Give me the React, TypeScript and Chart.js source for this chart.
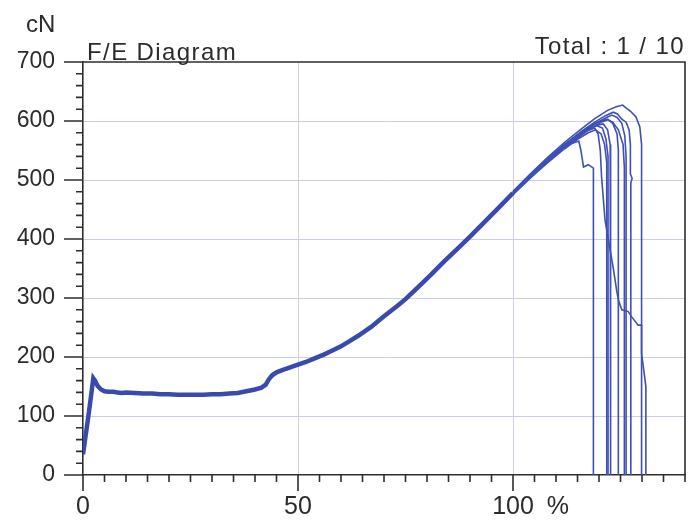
import React, { useEffect, useRef } from 'react';
import { Chart, registerables } from 'chart.js';

Chart.register(...registerables);

// ---- text ----
const unitY = 'cN';
const chartTitle = 'F/E Diagram';
const totalLabel = 'Total : 1 / 10';
const unitX = '%';

// ---- axes ----
const xMin = 0;
const xMax = 140;
const xMinorStep = 5;
const xLabelValues = [0, 50, 100];
const yMin = 0;
const yMax = 700;
const yMinorStep = 20;
const yLabelValues = [0, 100, 200, 300, 400, 500, 600, 700];

// ---- shared part of the 10 curves (elongation %, force cN) ----
const sharedCurve: number[][] = [
  [0, 35], [0.6, 66], [1.2, 97], [1.8, 130], [2.4, 164], [2.8, 160], [3.4, 151], [4.2, 145],
  [5, 142], [6, 141], [7, 141], [8, 140], [9, 139], [10, 140], [12, 139], [14, 138],
  [16, 138], [18, 137], [20, 137], [22, 136], [24, 136], [26, 136], [28, 136], [30, 137],
  [32, 137], [34, 138], [36, 139], [38, 142], [40, 145], [41.5, 148], [42.5, 153], [43.2, 162],
  [44, 169], [45, 174], [46.5, 178], [48, 182], [50, 187], [52, 192], [54, 198], [56, 204],
  [58, 211], [60, 218], [62, 227], [64, 236], [67, 251], [70, 269], [73, 286], [75, 298],
  [78, 319], [81, 340], [84, 362], [87, 383], [90, 404], [93, 426], [96, 448], [100, 478],
];

// ---- individual tails of each specimen ----
const specimen1: number[][] = [
  [100, 481], [104, 510], [108, 538], [112, 564], [116, 587], [119, 604], [122, 618], [124, 624],
  [125.5, 627], [126.5, 621], [127.4, 616], [128.6, 607], [129.5, 590], [129.9, 560], [129.9, 0],
];
const specimen2: number[][] = [
  [100, 477], [104, 505], [108, 531], [112, 555], [115, 572], [117.5, 584], [119, 588], [119.8, 578],
  [120.3, 550], [120.6, 505], [121.4, 432], [122.2, 398], [123.4, 347], [124.1, 313], [124.5, 297],
  [125.3, 280], [126.8, 277], [127.6, 268], [129.1, 254], [129.9, 254], [129.9, 206], [130.9, 150],
  [130.9, 0],
];
const specimen3: number[][] = [
  [100, 478], [104, 506], [108, 532], [111, 550], [113, 560], [115.3, 566], [115.8, 550],
  [116.4, 522], [117.5, 526], [118.7, 520], [118.7, 0],
];
const specimen4: number[][] = [
  [100, 475], [104, 503], [108, 529], [112, 553], [115, 569], [117.5, 580], [119.2, 585],
  [120.5, 578], [121.3, 560], [121.8, 530], [121.8, 0],
];
const specimen5: number[][] = [
  [100, 479], [104, 507], [108, 534], [112, 558], [115, 575], [117.5, 587], [119.5, 592],
  [120.8, 588], [121.6, 570], [122.1, 540], [122.1, 0],
];
const specimen6: number[][] = [
  [100, 477], [104, 505], [108, 532], [112, 557], [115, 574], [117.5, 586], [119.5, 593],
  [121, 595], [122, 585], [122.6, 560], [122.7, 500], [122.7, 0],
];
const specimen7: number[][] = [
  [100, 480], [104, 509], [108, 536], [112, 561], [116, 582], [118.5, 594], [120.5, 600],
  [122, 603], [123.2, 596], [124.2, 578], [124.5, 550], [124.5, 0],
];
const specimen8: number[][] = [
  [100, 478], [104, 506], [108, 533], [112, 558], [116, 580], [119, 595], [121.5, 605],
  [123, 610], [124.2, 606], [125.3, 596], [126, 575], [126.3, 540], [126.3, 0],
];
const specimen9: number[][] = [
  [100, 479], [104, 508], [108, 535], [112, 560], [116, 583], [119, 598], [121.5, 609],
  [123.3, 615], [124.3, 612], [125.3, 603], [126.3, 598], [127, 585], [127.3, 560],
  [127.3, 510], [127.7, 503], [127.4, 495], [127.4, 0],
];
const specimen10: number[][] = [
  [100, 476], [104, 504], [108, 531], [112, 556], [116, 577], [118.5, 590], [120.5, 598],
  [122, 602], [123.2, 598], [124.5, 585], [125.6, 560], [125.9, 520], [125.9, 0],
];

const specimens = [
  specimen1, specimen2, specimen3, specimen4, specimen5,
  specimen6, specimen7, specimen8, specimen9, specimen10,
];

// ---- styles ----
const LINE = 'rgb(62, 80, 182)';
const BAND = 'rgb(58, 74, 172)';
const AXIS = '#2e2e2e';
const GRID = 'rgb(206, 206, 226)';
const TEXT = '#2b2b2b';
const FONT = '"Liberation Sans", Arial, sans-serif';

const toXY = (pts: number[][]) => pts.map(([x, y]) => ({ x, y }));

const decorPlugin = {
  id: 'decor',
  afterDraw(chart: any) {
    const { ctx, chartArea: a, scales } = chart;
    const xs = scales.x;
    const ys = scales.y;
    ctx.save();
    ctx.strokeStyle = AXIS;
    ctx.lineWidth = 1.6;
    ctx.beginPath();
    // top and right frame
    ctx.moveTo(a.left, a.top);
    ctx.lineTo(a.right, a.top);
    ctx.lineTo(a.right, a.bottom);
    // y ticks
    ys.ticks.forEach((t: any) => {
      const p = ys.getPixelForValue(t.value);
      const len = yLabelValues.includes(t.value) ? 19 : 7;
      ctx.moveTo(a.left - len, p);
      ctx.lineTo(a.left, p);
    });
    // x ticks
    xs.ticks.forEach((t: any) => {
      const p = xs.getPixelForValue(t.value);
      const len = xLabelValues.includes(t.value) ? 16 : 7;
      ctx.moveTo(p, a.bottom);
      ctx.lineTo(p, a.bottom + len);
    });
    ctx.stroke();

    ctx.fillStyle = TEXT;
    ctx.textBaseline = 'alphabetic';
    ctx.font = `24px ${FONT}`;
    ctx.textAlign = 'left';
    ctx.fillText(unitY, 26, 32);
    (ctx as any).letterSpacing = '1.4px';
    ctx.fillText(chartTitle, 87, 60);
    ctx.textAlign = 'right';
    ctx.fillText(totalLabel, 685, 54);
    (ctx as any).letterSpacing = '0px';

    // unit after the last x label
    ctx.font = `25px ${FONT}`;
    ctx.textAlign = 'left';
    ctx.textBaseline = 'middle';
    const p100 = xs.getPixelForValue(xLabelValues[xLabelValues.length - 1]);
    const w = ctx.measureText(String(xLabelValues[xLabelValues.length - 1])).width;
    ctx.fillText(unitX, p100 + w / 2 + 13, 507);
    ctx.restore();
  },
};

export default function App() {
  const ref = useRef<HTMLCanvasElement>(null);

  useEffect(() => {
    if (!ref.current) return;
    const datasets: any[] = [
      {
        label: 'band',
        data: toXY(sharedCurve),
        borderColor: BAND,
        borderWidth: 4.5,
        pointRadius: 0,
        tension: 0,
        fill: false,
      },
      ...specimens.map((s, i) => ({
        label: `Specimen ${i + 1}`,
        data: toXY(s),
        borderColor: LINE,
        borderWidth: 1.6,
        pointRadius: 0,
        tension: 0,
        fill: false,
      })),
    ];
    const chart = new Chart(ref.current, {
      type: 'line',
      data: { datasets },
      options: {
        animation: false,
        responsive: false,
        events: [],
        layout: { padding: { top: 62, right: 3, left: 0, bottom: 0 } },
        plugins: { legend: { display: false }, tooltip: { enabled: false }, title: { display: false } },
        scales: {
          x: {
            type: 'linear',
            min: xMin,
            max: xMax,
            afterFit: (s: any) => {
              s.height = 46;
              s.paddingLeft = 0;
              s.paddingRight = 0;
            },
            border: { display: true, color: AXIS, width: 1.6 },
            grid: {
              drawTicks: false,
              color: (c: any) => (c.tick && (c.tick.value === 50 || c.tick.value === 100) ? GRID : 'rgba(0,0,0,0)'),
              lineWidth: 1,
            },
            ticks: {
              stepSize: xMinorStep,
              autoSkip: false,
              maxRotation: 0,
              minRotation: 0,
              padding: 17,
              color: TEXT,
              font: { family: FONT, size: 25 },
              callback: (v: any) => (xLabelValues.includes(Number(v)) ? String(v) : ''),
            },
          },
          y: {
            type: 'linear',
            min: yMin,
            max: yMax,
            afterFit: (s: any) => {
              s.width = 83;
              s.paddingTop = 0;
              s.paddingBottom = 0;
            },
            border: { display: true, color: AXIS, width: 1.6 },
            grid: {
              drawTicks: false,
              color: (c: any) =>
                c.tick && c.tick.value % 100 === 0 && c.tick.value !== yMin && c.tick.value !== yMax
                  ? GRID
                  : 'rgba(0,0,0,0)',
              lineWidth: 1,
            },
            ticks: {
              stepSize: yMinorStep,
              autoSkip: false,
              padding: 28,
              color: TEXT,
              font: { family: FONT, size: 23 },
              callback: (v: any) => (yLabelValues.includes(Number(v)) ? String(v) : ''),
            },
          },
        },
      },
      plugins: [decorPlugin],
    });
    return () => chart.destroy();
  }, []);

  return (
    <div style={{ position: 'absolute', left: 0, top: 0, width: 688, height: 521, background: '#fff' }}>
      <canvas ref={ref} width={688} height={521} />
    </div>
  );
}
